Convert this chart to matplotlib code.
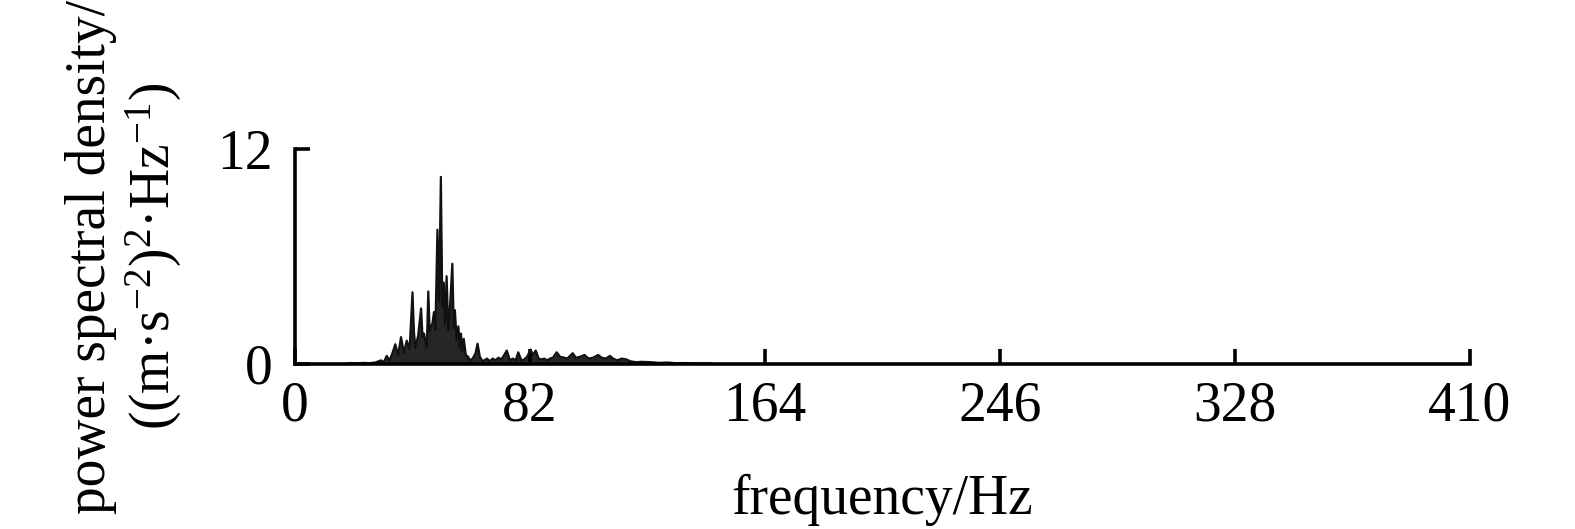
import matplotlib
matplotlib.use("Agg")
import matplotlib.pyplot as plt

plt.rcParams['font.family'] = ['Liberation Serif', 'DejaVu Serif']
plt.rcParams['mathtext.fontset'] = 'custom'
plt.rcParams['mathtext.rm'] = 'Liberation Serif'
plt.rcParams['mathtext.it'] = 'Liberation Serif:italic'

# spectrum (Hz, PSD)
freq = [18, 20, 22, 24, 26, 28, 30, 31, 32, 33, 34, 35, 36, 37, 38, 39, 40, 41, 41.5, 42,
        43, 44, 44.5, 45, 46, 46.5, 47, 48, 48.5, 49, 49.7, 50.3, 50.9, 51.4, 51.8, 52.4,
        52.9, 53.5, 54, 54.9, 55.4, 55.8, 56.4, 57, 57.5, 57.9, 58.4, 58.9, 59.6, 60.4, 61,
        62, 63, 63.7, 64.5, 65.5, 67, 68, 69, 70, 71, 72, 73, 73.9, 75, 76, 77, 77.9, 79, 80,
        81, 82.2, 83, 84, 85, 86, 87, 88, 89, 90, 91.3, 92.5, 94, 95, 96.9, 98, 99.5, 101,
        102.5, 104, 105.8, 107, 108.5, 109.9, 111, 112.5, 114, 115.7, 117, 119, 121, 124,
        127, 130, 133, 137, 140, 145]
psd = [0.02, 0.05, 0.03, 0.06, 0.04, 0.08, 0.2, 0.1, 0.45, 0.2, 0.6, 1.1, 0.5, 1.5, 0.6, 1.3,
       0.8, 4.0, 1.8, 0.9, 1.6, 3.1, 1.5, 1.7, 0.9, 4.05, 1.8, 2.3, 2.9, 1.9, 7.5, 3.5, 10.45,
       3.2, 4.55, 2.2, 4.9, 1.9, 2.9, 5.6, 2.0, 3.0, 1.3, 2.1, 0.9, 1.7, 0.7, 1.4, 0.5, 0.4,
       0.2, 0.3, 0.6, 1.13, 0.4, 0.15, 0.3, 0.15, 0.3, 0.2, 0.35, 0.25, 0.5, 0.75, 0.2, 0.3,
       0.2, 0.65, 0.2, 0.25, 0.4, 0.8, 0.5, 0.75, 0.3, 0.25, 0.3, 0.2, 0.3, 0.35, 0.65, 0.4,
       0.35, 0.3, 0.6, 0.35, 0.4, 0.5, 0.3, 0.35, 0.5, 0.35, 0.3, 0.45, 0.3, 0.2, 0.3, 0.25,
       0.15, 0.1, 0.12, 0.1, 0.06, 0.08, 0.04, 0.05, 0.03, 0.03]

xticks = [0, 82, 164, 246, 328, 410]
yticks = [0, 12]

fig = plt.figure(figsize=(15.75, 5.29), dpi=100)
ax = fig.add_axes([0.1873, 0.312, 0.746, 0.406])

ax.fill_between(freq, psd, 0, color='k', alpha=0.85, lw=0)
ax.plot(freq, psd, color='#111111', lw=1.6)

ax.set_xlim(0, 410)
ax.set_ylim(0, 12)
ax.set_xticks(xticks)
ax.set_yticks(yticks)
ax.spines['top'].set_visible(False)
ax.spines['right'].set_visible(False)
for s in ['left', 'bottom']:
    ax.spines[s].set_linewidth(2.6)
ax.tick_params(direction='in', length=11, width=2.6, labelsize=40, pad=12)
ax.tick_params(axis='y', pad=16)

ax.set_xlabel('frequency/Hz', fontsize=40, labelpad=30)
ax.set_ylabel('power spectral density/\n((m·s$^{-2}$)$^{2}$·Hz$^{-1}$)',
              fontsize=40, labelpad=24, linespacing=1.15, multialignment='center')

fig.savefig('out.png', dpi=100)
